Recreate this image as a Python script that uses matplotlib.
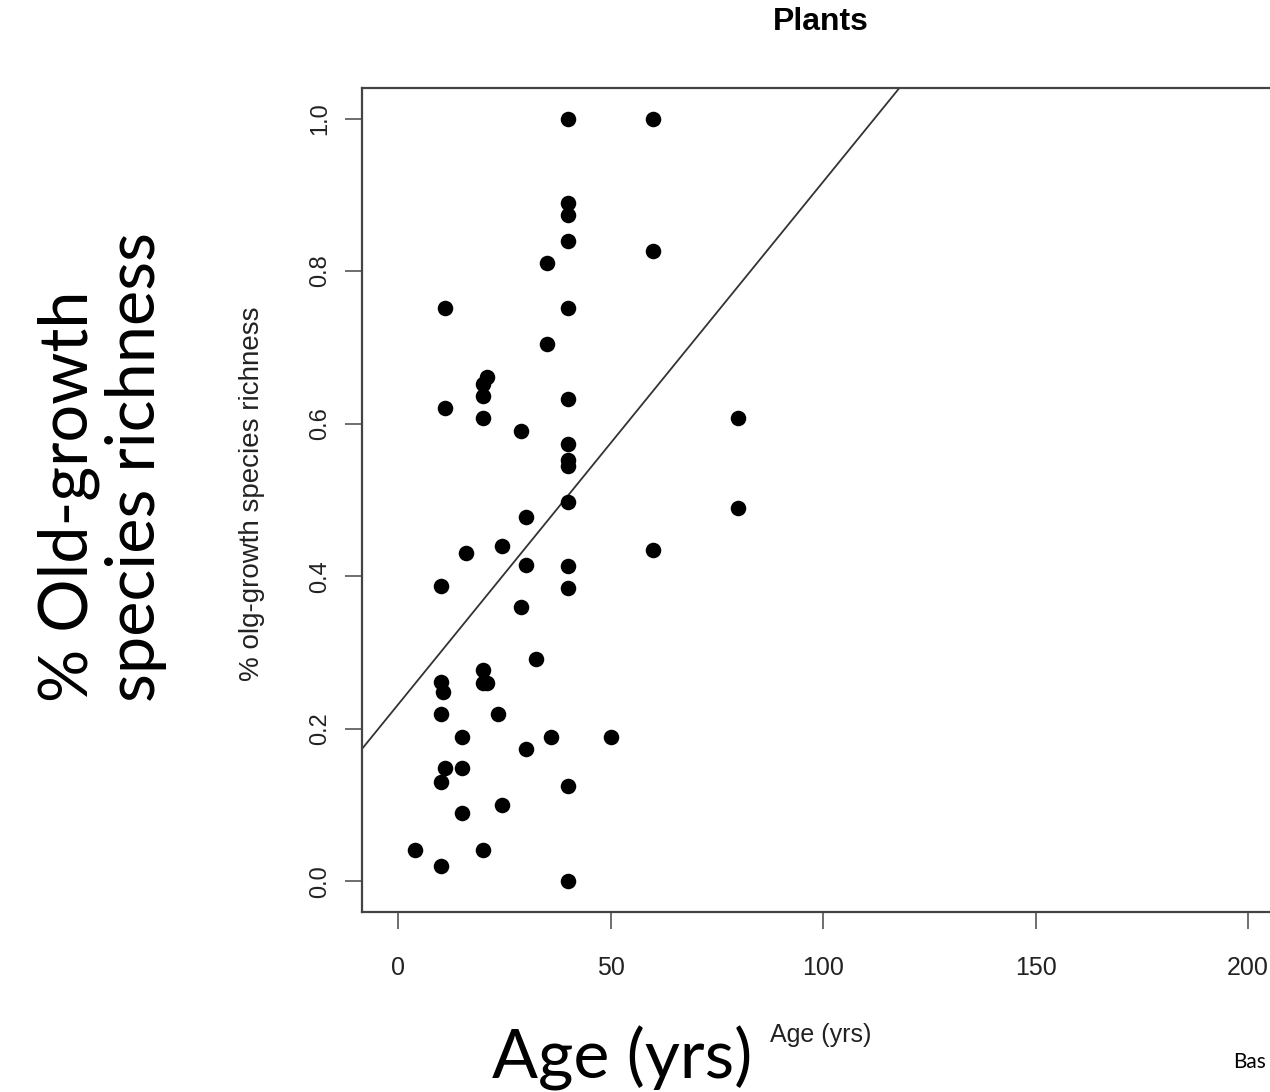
import numpy as np
import matplotlib.pyplot as plt

# Datos (edad del bosque vs % riqueza de especies)
edad = [40, 60, 40, 40, 40, 60, 35, 11, 40, 35,
        21, 20, 20, 11, 20, 29, 40, 40, 40, 40,
        80, 40, 80, 30, 24.5, 16, 60, 40, 30, 10,
        40, 29, 32.5, 20, 10, 10.5, 20, 21, 10, 23.5,
        15, 36, 50, 30, 11, 15, 10, 40, 15, 24.5,
        4, 20, 10, 40]
riqueza = [1.0, 1.0, 0.889, 0.874, 0.839, 0.827, 0.811, 0.751, 0.751, 0.704,
           0.661, 0.652, 0.636, 0.621, 0.607, 0.590, 0.633, 0.573, 0.553, 0.544,
           0.608, 0.497, 0.490, 0.478, 0.440, 0.430, 0.435, 0.413, 0.415, 0.387,
           0.385, 0.360, 0.291, 0.277, 0.261, 0.249, 0.260, 0.260, 0.219, 0.220,
           0.190, 0.190, 0.190, 0.174, 0.149, 0.149, 0.131, 0.125, 0.090, 0.100,
           0.041, 0.041, 0.020, 0.0]

# Recta de ajuste
intercepto = 0.232
pendiente = 0.00685

x_ticks = [0, 50, 100, 150, 200]
y_ticks = [0.0, 0.2, 0.4, 0.6, 0.8, 1.0]

W, H = 1270, 1092
fig = plt.figure(figsize=(W / 100, H / 100), dpi=100)
ax = fig.add_axes([362 / W, 1 - 912 / H, (1333 - 362) / W, (912 - 88) / H])

ax.scatter(edad, riqueza, s=125, color="black", zorder=3, linewidths=0)
ax.axline((0, intercepto), slope=pendiente, color="#333333", lw=1.3)

ax.set_xlim(-8.5, 220)
ax.set_ylim(-0.04, 1.04)
ax.set_xticks(x_ticks)
ax.set_xticklabels([str(v) for v in x_ticks])
ax.set_yticks(y_ticks)
ax.set_yticklabels([f"{v:.1f}" for v in y_ticks], rotation=90, va="center")

for s in ax.spines.values():
    s.set_color("#444444")
    s.set_linewidth(1.6)

fuente = "Liberation Sans"
ax.tick_params(axis="x", length=12, width=1.2, color="#555555", pad=20,
               labelsize=18, labelcolor="#222222")
ax.tick_params(axis="y", length=12, width=1.2, color="#555555", pad=10,
               labelsize=17, labelcolor="#222222")
for lab in ax.get_xticklabels() + ax.get_yticklabels():
    lab.set_family(fuente)

# Textos del gráfico original (R)
fig.text(821 / W, 1 - 22 / H, "Plants", ha="center", va="center",
         fontsize=23, fontweight="bold", family=fuente)
fig.text(821 / W, 1 - 1035 / H, "Age (yrs)", ha="center", va="center",
         fontsize=18, family=fuente, color="#222222")
fig.text(252 / W, 1 - 494 / H, "% olg-growth species richness", ha="center",
         va="center", rotation=90, fontsize=20, family=fuente, color="#222222")

# Textos grandes de la diapositiva
fig.text(167 / W, 1 - 702 / H, "% Old-growth\nspecies richness", ha="right",
         va="bottom", rotation=90, fontsize=48, family="Lato",
         linespacing=1.1, multialignment="left")
fig.text(622 / W, 1 - 1058 / H, "Age (yrs)", ha="center", va="center",
         fontsize=49, family="Lato")
fig.text(1233 / W, 1 - 1062 / H, "Bas", ha="left", va="center",
         fontsize=15, family="Lato")

fig.savefig("out.png", dpi=100)
